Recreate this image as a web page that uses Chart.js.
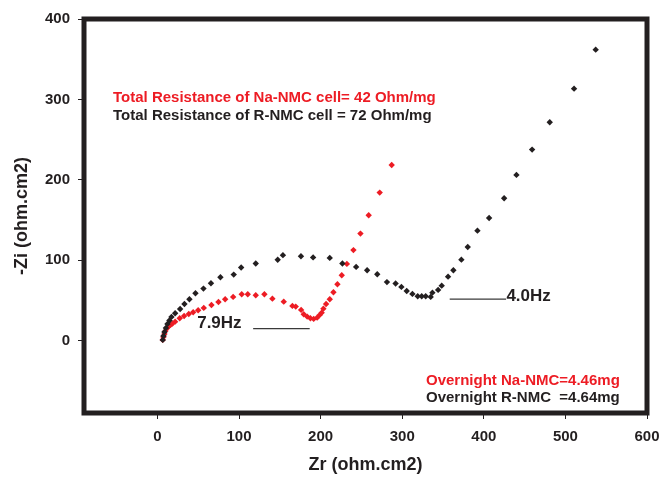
<!DOCTYPE html>
<html>
<head>
<meta charset="utf-8">
<script src="https://cdn.jsdelivr.net/npm/chart.js@4/dist/chart.umd.min.js"></script>
<style>
  html, body { margin: 0; padding: 0; background: #fff; }
  #wrap { width: 660px; height: 477px; }
</style>
</head>
<body>
<div id="wrap"><canvas id="nyquist" width="660" height="477"></canvas></div>
<script>
// Nyquist plot — Na-NMC vs R-NMC cells

// Na-NMC cell (red)
const naZr = [6.5, 7.4, 8.6, 9.8, 11.6, 13.5, 15.9, 18.4, 21.7, 27.3, 32.7, 38.4, 43.8, 49.9, 56.8, 66.2,
  74.8, 83.0, 92.8, 103.3, 110.7, 120.5, 131.1, 140.9, 154.8, 165.4, 169.5, 176.1, 179.3, 183.5, 187.5,
  191.5, 195.7, 198.9, 201.3, 203.4, 206.7, 211.2, 215.7, 220.6, 225.9, 232.2, 240.2, 248.8, 258.9, 272.4, 287.1];
const naZi = [0.9, 4.6, 8.3, 12.1, 15.2, 17.7, 19.5, 21.4, 23.6, 27.9, 30.7, 33.2, 35.3, 37.8, 40.7, 44.4,
  48.1, 51.5, 54.4, 57.7, 57.7, 56.5, 57.7, 52.2, 48.5, 43.2, 42.3, 38.2, 32.8, 29.9, 27.9,
  27.0, 28.6, 32.0, 34.8, 39.8, 45.6, 51.5, 60.2, 70.1, 81.3, 95.4, 112.6, 133.1, 156.0, 184.1, 218.5];

// R-NMC cell (black)
const rZr = [6.5, 7.4, 8.6, 10.4, 12.3, 14.7, 17.2, 21.7, 27.8, 33.1, 39.2, 46.6, 56.4, 65.6, 77.2, 93.5,
  102.6, 120.5, 147.4, 153.8, 175.9, 190.8, 211.2, 226.7, 243.5, 257.0, 269.4, 281.3, 291.9, 299.0, 305.5,
  312.5, 319.0, 323.9, 328.8, 334.9, 337.0, 344.0, 348.4, 356.2, 362.7, 372.5, 380.3, 392.2, 406.5, 424.9,
  440.0, 459.2, 480.8, 510.6, 537.1];
const rZi = [0.9, 5.8, 10.8, 15.8, 20.8, 25.1, 29.5, 34.1, 39.4, 45.6, 51.5, 59.0, 64.7, 71.4, 78.9, 82.1,
  91.0, 96.0, 100.6, 106.3, 105.0, 103.5, 102.9, 96.0, 91.7, 87.6, 82.6, 72.8, 71.1, 66.8, 61.8,
  58.1, 55.2, 55.2, 55.2, 54.4, 59.7, 63.1, 68.4, 79.6, 87.6, 100.7, 116.5, 136.8, 152.6, 177.1,
  206.1, 237.6, 271.6, 313.4, 361.9];

// frequency markers: leader line ends and label anchor
const hz79Line = [[117.3, 14.9], [186.6, 14.9]];
const hz40Line = [[358.2, 51.5], [427.3, 51.5]];
const hzLabels = [
  { text: '7.9Hz', x: 48.7, y: 21.4 },
  { text: '4.0Hz', x: 427.7, y: 55.6 },
];

const xTicks = [0, 100, 200, 300, 400, 500, 600];
const yTicks = [0, 100, 200, 300, 400];

const RED = '#ed1c24';
const INK = '#231f20';
const FONT = '"Liberation Sans", Arial, Helvetica, sans-serif';

const pts = (xs, ys) => xs.map((x, i) => ({ x, y: ys[i] }));
const seg = line => line.map(([x, y]) => ({ x, y }));

// frame, axis titles and text notes
const decor = {
  id: 'decor',
  afterDraw(chart) {
    const { ctx, chartArea: a, scales } = chart;
    ctx.save();
    ctx.strokeStyle = INK;
    ctx.lineWidth = 5;
    ctx.strokeRect(a.left, a.top, a.right - a.left, a.bottom - a.top);

    ctx.fillStyle = INK;
    ctx.textBaseline = 'middle';
    ctx.font = `bold 18px ${FONT}`;
    ctx.textAlign = 'center';
    ctx.fillText('Zr (ohm.cm2)', (a.left + a.right) / 2, 465);
    ctx.save();
    ctx.translate(22, (a.top + a.bottom) / 2);
    ctx.rotate(-Math.PI / 2);
    ctx.fillText('-Zi (ohm.cm2)', 0, 0);
    ctx.restore();

    ctx.font = `bold 17px ${FONT}`;
    ctx.textAlign = 'left';
    for (const l of hzLabels) {
      ctx.fillText(l.text, scales.x.getPixelForValue(l.x), scales.y.getPixelForValue(l.y));
    }

    ctx.font = `bold 15px ${FONT}`;
    ctx.fillStyle = RED;
    ctx.fillText('Total Resistance of Na-NMC cell= 42 Ohm/mg', 113, 98);
    ctx.fillText('Overnight Na-NMC=4.46mg', 426, 381);
    ctx.fillStyle = INK;
    ctx.fillText('Total Resistance of R-NMC cell = 72 Ohm/mg', 113, 116);
    ctx.fillText('Overnight R-NMC  =4.64mg', 426, 398);
    ctx.restore();
  }
};

const tickFont = { family: FONT, size: 15, weight: 'bold' };
const axisGrid = { drawOnChartArea: false, drawTicks: true, tickLength: 6, color: INK, lineWidth: 1 };

new Chart(document.getElementById('nyquist'), {
  type: 'scatter',
  data: {
    datasets: [
      {
        label: 'R-NMC', data: pts(rZr, rZi),
        pointStyle: 'rectRot', pointRadius: 3.2, borderWidth: 0,
        backgroundColor: INK, borderColor: INK,
      },
      {
        label: 'Na-NMC', data: pts(naZr, naZi),
        pointStyle: 'rectRot', pointRadius: 3.2, borderWidth: 0,
        backgroundColor: RED, borderColor: RED,
      },
      {
        label: '7.9Hz', data: seg(hz79Line), showLine: true,
        pointRadius: 0, borderColor: '#3a3a3a', borderWidth: 1.3,
      },
      {
        label: '4.0Hz', data: seg(hz40Line), showLine: true,
        pointRadius: 0, borderColor: '#3a3a3a', borderWidth: 1.3,
      },
    ]
  },
  options: {
    responsive: false,
    animation: false,
    layout: { padding: { top: 19, right: 13, left: 0, bottom: 0 } },
    plugins: { legend: { display: false }, tooltip: { enabled: false } },
    scales: {
      x: {
        type: 'linear', min: -90, max: 600,
        afterBuildTicks: s => { s.ticks = xTicks.map(v => ({ value: v })); },
        afterFit: s => { s.height = 64; s.paddingLeft = 0; s.paddingRight = 0; },
        grid: axisGrid,
        border: { display: false },
        ticks: { color: INK, font: tickFont, padding: 9, maxRotation: 0 },
      },
      y: {
        type: 'linear', min: -90, max: 400,
        afterBuildTicks: s => { s.ticks = yTicks.map(v => ({ value: v })); },
        afterFit: s => { s.width = 84; s.paddingTop = 0; s.paddingBottom = 0; },
        grid: axisGrid,
        border: { display: false },
        ticks: { color: INK, font: tickFont, padding: 8 },
      },
    }
  },
  plugins: [decor]
});
</script>
</body>
</html>
